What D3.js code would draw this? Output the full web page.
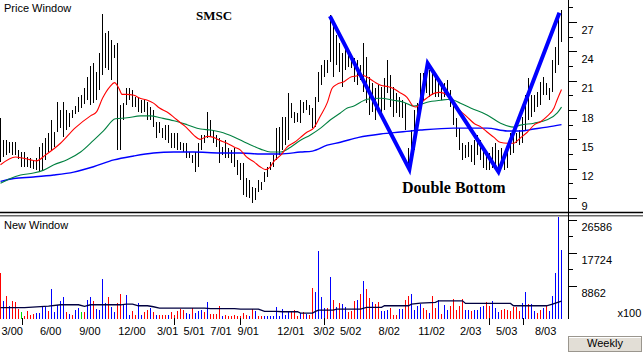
<!DOCTYPE html>
<html><head><meta charset="utf-8">
<script src="https://cdn.jsdelivr.net/npm/d3@7"></script>
<style>html,body{margin:0;padding:0;background:#fff;}svg{display:block;}</style>
</head><body>
<svg id="c" width="643" height="352"></svg>
<script>
// ---- weekly price bars (high / low), Feb 2000 .. Sep 2003 ----
const high = [17.2,14.9,14.9,14.7,14.7,14.7,13.9,13.7,13.7,13.2,
13.1,12.9,13.1,14.2,14.6,15.1,15.6,17.0,15.8,18.8,
18.0,18.8,18.0,17.7,18.0,18.4,19.3,19.5,20.3,21.4,
22.5,22.8,21.9,23.8,27.8,25.9,26.1,25.2,24.6,24.9,
18.5,18.7,20.3,20.3,20.0,19.3,19.2,19.0,19.0,18.8,
18.3,18.0,16.8,16.8,16.2,16.5,16.5,15.6,15.6,15.6,
14.7,14.6,14.6,13.7,13.4,13.7,14.6,15.4,15.4,17.8,
17.0,16.0,15.4,15.1,14.2,14.9,14.1,13.9,14.1,12.9,
12.6,12.6,11.0,10.8,10.1,10.0,10.8,10.6,11.7,12.2,
12.7,13.4,16.2,16.3,17.3,17.3,19.7,18.7,17.8,17.7,
19.0,18.8,19.0,18.5,18.2,19.3,21.9,22.6,23.1,23.1,
27.7,26.7,25.7,24.9,23.8,24.9,24.1,23.1,23.3,23.1,
22.6,24.9,23.4,21.4,20.8,20.3,20.6,20.4,21.3,23.1,
21.6,20.4,19.7,19.3,19.0,18.7,14.1,16.0,18.0,18.7,
21.8,21.8,22.9,22.1,22.1,21.8,21.1,20.9,20.8,21.1,
20.0,19.0,17.2,16.2,14.6,14.4,14.7,14.4,14.9,15.4,
14.9,13.9,13.4,13.6,14.2,14.6,13.9,14.1,13.7,14.1,
15.6,15.2,15.6,16.0,17.3,19.5,21.3,19.5,19.5,19.8,
20.9,21.4,20.8,20.3,23.1,24.4,27.7,28.2];
const low = [12.7,13.2,13.4,13.6,13.4,13.4,13.0,12.2,12.2,12.2,
12.1,12.0,11.9,11.7,11.9,12.9,13.7,13.9,14.2,15.8,
16.2,15.2,16.0,16.3,17.2,17.6,17.8,18.2,18.6,19.0,
18.5,18.7,19.0,20.0,21.6,22.3,22.1,21.1,23.3,13.9,
13.9,17.0,18.5,19.0,18.3,18.3,17.8,17.7,17.8,17.0,
17.0,16.3,15.1,15.6,15.1,14.9,14.6,14.1,14.1,13.9,
13.9,13.7,13.1,13.1,12.6,11.7,12.2,13.9,14.6,15.1,
15.2,14.6,14.2,12.6,13.4,13.1,13.1,12.6,12.2,11.4,
10.8,9.3,9.1,9.0,8.5,8.8,9.6,9.8,10.6,11.1,
11.9,12.2,12.9,13.4,13.9,14.4,14.9,17.2,16.7,16.8,
16.7,17.7,18.0,17.5,16.2,16.3,18.8,20.6,21.4,21.8,
22.9,21.4,22.6,21.9,20.4,22.1,22.4,22.3,20.9,20.6,
21.1,19.8,18.7,17.5,17.8,17.0,18.2,17.3,18.0,19.7,
18.3,17.3,17.7,17.3,17.2,16.0,11.9,12.6,13.9,16.7,
18.3,19.0,19.7,19.3,19.5,19.3,19.3,19.0,19.3,19.3,
18.3,16.5,15.2,13.9,12.9,13.1,13.2,12.7,12.4,13.4,
12.9,12.1,11.9,11.9,12.1,11.9,12.1,12.6,11.9,12.1,
13.4,13.6,14.6,14.4,14.6,16.0,17.0,17.3,17.8,18.3,
18.5,19.5,19.5,19.0,19.8,21.8,22.6,25.0];

// ---- weekly volume (x100) and direction: 1 up, -1 down, 0 unchanged ----
const volume = [12418,4866,6195,3536,4866,4441,2659,1782,877,2207,
1143,1330,1516,1516,3111,3111,2047,7977,1782,3802,
4866,5930,1782,1330,1064,2393,2845,1941,1782,5052,
5930,4866,2659,2393,10636,4334,5770,3111,1941,4175,
6648,3723,6461,1143,2207,1064,4175,1064,1941,2393,
2925,1941,1143,1064,1064,1064,1064,1941,1064,2047,
2659,2393,1516,1330,3005,1516,2207,2393,1782,4441,
1330,1330,1330,3536,877,1064,798,798,1143,718,
798,1516,1064,718,2659,2047,718,718,718,718,
718,718,3271,877,2659,1064,2207,1782,2393,877,
1516,1782,1330,1064,8243,7100,18161,5770,2925,2925,
11248,5052,3271,4175,3989,3271,1941,2207,4706,5052,
6648,10024,7977,5584,4441,3989,4441,2207,2207,2393,
2925,1064,1064,2659,2659,5052,6195,6648,2393,3536,
3989,2925,2393,1595,6195,2925,5052,1330,3802,2393,
3536,5318,2393,3536,5318,2393,2393,2207,2393,2393,
3271,3536,4441,3536,4866,2925,1941,2393,2659,2393,
2207,3271,3111,2207,4175,7100,3989,3989,2207,1516,
2393,2925,3723,2207,6195,12418,27202,18347];
const volDir = [-1,1,-1,1,-1,-1,-1,0,-1,-1,
-1,-1,1,1,1,1,-1,1,1,1,
1,1,-1,1,-1,1,1,0,-1,1,
1,-1,1,1,1,1,-1,1,1,-1,
-1,1,1,1,-1,-1,1,1,-1,-1,
1,-1,1,-1,-1,-1,1,-1,-1,-1,
-1,-1,1,1,-1,1,1,1,-1,1,
-1,-1,-1,-1,1,-1,-1,-1,-1,-1,
-1,-1,-1,1,-1,1,-1,-1,1,1,
1,1,1,1,1,1,1,-1,-1,-1,
1,-1,1,-1,-1,1,1,1,1,-1,
1,-1,1,-1,1,1,-1,-1,-1,1,
-1,1,-1,-1,1,-1,-1,1,1,1,
-1,-1,-1,1,1,-1,-1,1,1,1,
1,-1,-1,1,-1,-1,1,-1,1,1,
-1,-1,-1,-1,-1,1,1,-1,1,1,
1,1,-1,-1,1,1,1,-1,-1,-1,
-1,-1,-1,-1,1,1,-1,1,1,-1,
-1,1,-1,1,1,1,1,1];

// ---- moving averages (week index, value) ----
const maShortWeek = [0,5,10,12,15,20,25,30,32,34,36.5,38,39.5,40.5,42,44.5,46.5,49,51,53,56,58,60,62,64.5,66.5,69,71,73,75.5,78,80,82,84.5,86.5,88.5,90,91,93.5,95.5,98,100,102,104.5,106.5,109,110.5,112,114.5,117,119,120,122,124.5,127,129,131,133,135.5,137.5,138.5,140,142,144.5,146.5,149,151,153,155.5,158,160,162,164.5,166.5,169,171,173.5,175.5,178,180,182,184.5,185.5,187];
const maShort = [12.4,13.2,12.9,12.8,13.4,14.6,16.2,17.4,17.8,19.2,20.4,20.8,20.2,19.6,19.6,19.5,19.2,19.0,18.7,18.2,17.7,17.2,16.7,16.2,15.4,15.0,15.3,15.2,14.9,14.6,14.2,13.9,13.2,12.7,12.2,11.9,12.2,12.7,13.4,14.2,14.7,15.2,15.7,16.2,17.3,18.8,20.2,20.6,20.9,21.4,21.5,21.6,21.4,20.9,20.5,20.4,20.2,19.8,19.3,18.4,18.3,18.7,19.2,19.7,19.8,19.5,18.8,18.0,17.3,16.6,16.3,15.8,15.2,14.7,14.6,14.6,15.2,15.7,16.5,16.8,17.3,18.2,19.0,20.1];
const maMidWeek = [0,3.3,6.7,11,14.4,17.8,22.2,26.7,31,34.4,38.3,42.2,46.7,50,53.3,57.8,62.2,66.7,70,73.3,77.8,82.2,86.7,90,93.3,96.7,100,103.3,106.7,110,113.3,115.6,117.8,120,122.2,126.7,131,134.4,137.8,142.2,146.7,150,153.3,156.7,162.2,166.7,171.1,173.3,177.8,182.2,185.6,187];
const maMid = [10.5,11.0,11.35,11.55,11.85,12.4,12.9,13.7,14.9,15.9,17.1,17.2,17.4,17.4,17.2,16.9,16.5,16.05,15.95,15.75,15.25,14.6,14.0,13.7,13.7,14.2,14.9,15.45,16.15,17.0,17.7,18.2,18.4,18.8,19.1,19.2,19.0,18.8,18.4,18.8,19.0,19.1,18.7,18.2,17.5,16.65,16.25,16.45,16.65,17.0,17.7,18.3];
const maLongWeek = [0,4.4,11,17.8,24.4,31,37.8,44.4,51,57.8,64.4,73.3,80,86.7,93.3,100,104,108.9,113.3,119.4,126.7,133.3,140,151,162.2,168.9,173.3,177.8,182.2,187];
const maLong = [10.7,11.0,11.15,11.35,11.65,12.2,12.9,13.3,13.6,13.7,13.7,13.6,13.6,13.5,13.5,13.7,13.8,14.4,14.7,15.2,15.55,15.75,15.95,16.15,16.15,15.85,15.85,16.05,16.25,16.5];
const volMAWeek = [0,8,16,20,26,28,30,40,42,44,46,49,51,53,68,70,78,80,86,88,92,94,99,100,104,105,106,111,112,120,122,127,128,136,137,140,145,146,154,155,170,171,182,184,186,187];
const volMA = [3058,3058,3457,3802,3802,3377,3802,3802,3989,3989,3536,3536,3271,2925,2925,2790,2790,2659,2659,2047,2047,1941,1941,1595,1595,2047,2393,2393,2659,2659,3111,3111,3536,3536,3989,4254,4441,4866,4866,4175,4175,3536,3536,3989,4520,4786];

// ---- hand-drawn "double bottom" pattern (week, price) ----
const patternWeek = [109.8,136.3,142.4,166.0,186.3];
const patternPrice = [27.6,11.93,22.77,11.68,27.95];

// ---- axis labels ----
const priceTicks = [27,24,21,18,15,12,9];
const priceMinor = [28.5,25.5,22.5,19.5,16.5,13.5,10.5];
const volTicks = [26586,17724,8862];
const volMinor = [22155,13293];
const dateLabels = ["3/00","6/00","9/00","12/00","3/01","5/01","7/01","9/01","12/01","3/02","5/02","8/02","11/02","2/03","5/03","8/03"];
const dateLabelWeek = [3.9,16.7,29.8,43.8,55.7,64.6,73.5,82.6,96.8,107.8,116.7,129.6,143.7,156.7,168.7,181.7];
const dateTickWeek = [7.1,57.9,79.8,107.9,162.9,174.0];

const svg = d3.select("#c");
const SANS = "'Liberation Sans', Arial, sans-serif";
const SERIF = "'Liberation Serif', 'Times New Roman', serif";
const AX = 568.5;

const x = d3.scaleLinear().domain([0, 187]).range([0.5, 561.5]);
const yP = d3.scaleLinear().domain([27, 9]).range([22, 198]);
const yV = d3.scaleLinear().domain([0, 26586]).range([319, 219.5]);

svg.append("rect").attr("width",643).attr("height",352).attr("fill","#fff");

const defs = svg.append("defs");
defs.append("clipPath").attr("id","cp").append("rect").attr("x",0).attr("y",0).attr("width",568).attr("height",211);
defs.append("clipPath").attr("id","cv").append("rect").attr("x",0).attr("y",217).attr("width",568).attr("height",103);

// price panel
const gp = svg.append("g").attr("clip-path","url(#cp)");
gp.selectAll("line.bar").data(high).join("line")
  .attr("x1",(d,i)=>Math.round(x(i)-0.5)+0.5).attr("x2",(d,i)=>Math.round(x(i)-0.5)+0.5)
  .attr("y1",d=>yP(d)).attr("y2",(d,i)=>yP(low[i]))
  .attr("stroke","#000").attr("stroke-width",1).attr("shape-rendering","crispEdges");

const maLine = d3.line().x(d=>x(d[0])).y(d=>yP(d[1])).curve(d3.curveMonotoneX);
gp.append("path").attr("d",maLine(d3.zip(maLongWeek,maLong))).attr("fill","none").attr("stroke","#0000ff").attr("stroke-width",1.4);
gp.append("path").attr("d",maLine(d3.zip(maMidWeek,maMid))).attr("fill","none").attr("stroke","#008040").attr("stroke-width",1.1);
gp.append("path").attr("d",maLine(d3.zip(maShortWeek,maShort))).attr("fill","none").attr("stroke","#ff0000").attr("stroke-width",1.1);

const patLine = d3.line().x(d=>x(d[0])).y(d=>yP(d[1]));
gp.append("path").attr("d",patLine(d3.zip(patternWeek,patternPrice))).attr("fill","none")
  .attr("stroke","#0000ff").attr("stroke-width",4).attr("stroke-linejoin","miter");

svg.append("text").attr("x",196).attr("y",19.5).attr("font-family",SERIF).attr("font-weight","bold").attr("font-size",13).text("SMSC");
svg.append("text").attr("x",402).attr("y",193).attr("font-family",SERIF).attr("font-weight","bold").attr("font-size",16).text("Double Bottom");
svg.append("text").attr("x",4).attr("y",11.5).attr("font-family",SANS).attr("font-size",11).text("Price Window");

// volume panel
const gv = svg.append("g").attr("clip-path","url(#cv)");
const dirColor = d => d > 0 ? "#0000ff" : (d < 0 ? "#ff0000" : "#00e000");
gv.selectAll("line.vb").data(volume).join("line")
  .attr("x1",(d,i)=>Math.round(x(i)-0.5)+0.5).attr("x2",(d,i)=>Math.round(x(i)-0.5)+0.5)
  .attr("y1",yV(0)).attr("y2",d=>yV(d))
  .attr("stroke",(d,i)=>dirColor(volDir[i])).attr("stroke-width",1).attr("shape-rendering","crispEdges");
gv.append("path").attr("d",d3.line().x(d=>x(d[0])).y(d=>yV(d[1]))(d3.zip(volMAWeek,volMA)))
  .attr("fill","none").attr("stroke","#000040").attr("stroke-width",1.3);
svg.append("text").attr("x",4).attr("y",228.5).attr("font-family",SANS).attr("font-size",11).text("New Window");

// separators
svg.append("line").attr("x1",0).attr("x2",643).attr("y1",212.5).attr("y2",212.5).attr("stroke","#000").attr("stroke-width",1.5);
svg.append("line").attr("x1",0).attr("x2",643).attr("y1",215.8).attr("y2",215.8).attr("stroke","#6a6a6a").attr("stroke-width",1.4);

// right axis line
svg.append("line").attr("x1",AX).attr("x2",AX).attr("y1",0).attr("y2",319).attr("stroke","#000").attr("stroke-width",1).attr("shape-rendering","crispEdges");

function styleAxis(g){
  g.select(".domain").remove();
  g.selectAll(".tick line").attr("stroke","#000").attr("shape-rendering","crispEdges");
  g.selectAll("text").attr("font-family",SANS).attr("font-size",11).attr("fill","#000").attr("dy","1em");
}
svg.append("g").attr("transform",`translate(${AX},0)`)
  .call(d3.axisRight(yP).tickValues(priceTicks).tickSize(8).tickPadding(5).tickFormat(d3.format("d"))).call(styleAxis);
svg.append("g").attr("transform",`translate(${AX},0)`)
  .call(d3.axisRight(yP).tickValues(priceMinor).tickSize(4).tickFormat("")).call(styleAxis);
svg.append("g").attr("transform",`translate(${AX},0)`)
  .call(d3.axisRight(yV).tickValues(volTicks).tickSize(8).tickPadding(5).tickFormat(d3.format("d"))).call(styleAxis);
svg.append("g").attr("transform",`translate(${AX},0)`)
  .call(d3.axisRight(yV).tickValues(volMinor).tickSize(4).tickFormat("")).call(styleAxis);
svg.append("text").attr("x",617.5).attr("y",317).attr("font-family",SANS).attr("font-size",11).text("x100");

// bottom date axis
svg.append("g").selectAll("line").data(dateTickWeek).join("line")
  .attr("x1",d=>Math.round(x(d))+0.5).attr("x2",d=>Math.round(x(d))+0.5).attr("y1",318).attr("y2",325)
  .attr("stroke","#000").attr("shape-rendering","crispEdges");
svg.append("g").selectAll("text").data(dateLabels).join("text")
  .attr("x",(d,i)=>x(dateLabelWeek[i])).attr("y",335).attr("text-anchor","middle")
  .attr("font-family",SANS).attr("font-size",11).text(d=>d);

// "Weekly" button
const btn = svg.append("g");
btn.append("rect").attr("x",568.5).attr("y",336.5).attr("width",73).attr("height",15).attr("fill","#e2ded6").attr("stroke","#9a968e");
btn.append("line").attr("x1",569).attr("x2",641).attr("y1",337.5).attr("y2",337.5).attr("stroke","#fff");
btn.append("text").attr("x",605).attr("y",346.5).attr("text-anchor","middle").attr("font-family",SANS).attr("font-size",11).text("Weekly");
</script>
</body></html>
